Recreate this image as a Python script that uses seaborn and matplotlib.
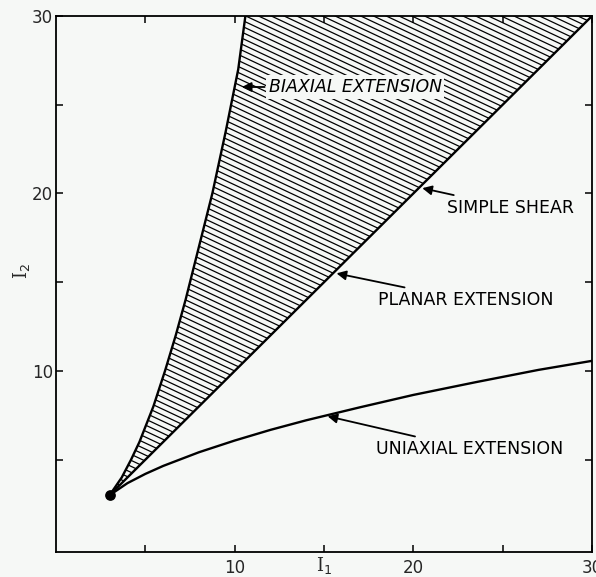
import numpy as np
import pandas as pd
import matplotlib
matplotlib.use("Agg")
import matplotlib.pyplot as plt
from matplotlib.collections import LineCollection
import seaborn as sns

# ---- data ----
uni_i1 = [3, 4, 5, 6, 8, 10, 12, 14, 17, 20, 23.5, 27, 30]
uni_i2 = [3, 3.68, 4.2, 4.65, 5.42, 6.08, 6.68, 7.22, 7.95, 8.65, 9.37, 10.06, 10.57]

bi_i1 = [3, 3.68, 4.2, 4.67, 5.45, 6.1, 6.7, 7.25, 8.0, 8.75, 9.5, 10.2, 10.6]
bi_i2 = [3, 4, 5, 6, 8, 10, 12, 14, 17, 20, 23.5, 27, 30]

shear_i1 = [3, 30]
shear_i2 = [3, 30]

origin_i1 = [3]
origin_i2 = [3]

x_ticks = [10, 20, 30]
y_ticks = [10, 20, 30]
minor_ticks = [5, 15, 25]

labels = ["BIAXIAL EXTENSION", "SIMPLE SHEAR", "PLANAR EXTENSION", "UNIAXIAL EXTENSION"]
label_tips = [(10.4, 26.0), (20.5, 20.3), (15.7, 15.5), (15.2, 7.45)]
label_pos = [(11.9, 26.0), (21.9, 19.2), (18.0, 14.0), (17.9, 5.6)]

# ---- style ----
sns.set_theme(style="white")
bg = "#f6f8f6"
plt.rcParams["font.family"] = ["DejaVu Sans"]

fig = plt.figure(figsize=(5.96, 5.77), dpi=100, facecolor=bg)
ax = fig.add_axes([56 / 596, 25 / 577, 536 / 596, 536 / 577])
ax.set_facecolor(bg)

uni_df = pd.DataFrame({"I1": uni_i1, "I2": uni_i2})
bi_df = pd.DataFrame({"I1": bi_i1, "I2": bi_i2})
sh_df = pd.DataFrame({"I1": shear_i1, "I2": shear_i2})

# hatched region between biaxial curve and I1 = I2 line
reg_x = list(bi_i1) + [shear_i1[-1]] + list(reversed(shear_i1))[1:]
reg_y = list(bi_i2) + [shear_i2[-1]] + list(reversed(shear_i2))[1:]
poly = ax.fill(reg_x, reg_y, facecolor="none", edgecolor="none")[0]

slope = -0.47
step = 0.0112
offs = np.arange(-0.2, 1.6, step)
segs = [[(0, c), (1, c + slope)] for c in offs]
lc = LineCollection(segs, colors="black", linewidths=0.9, transform=ax.transAxes, zorder=1)
ax.add_collection(lc)
lc.set_clip_path(poly)

sns.lineplot(data=uni_df, x="I1", y="I2", ax=ax, color="black", lw=1.7, sort=False,
             estimator=None, zorder=3)
sns.lineplot(data=bi_df, x="I1", y="I2", ax=ax, color="black", lw=1.7, sort=False,
             estimator=None, zorder=3)
sns.lineplot(data=sh_df, x="I1", y="I2", ax=ax, color="black", lw=1.7, sort=False,
             estimator=None, zorder=3)
ax.scatter(origin_i1, origin_i2, s=45, color="black", zorder=4)

for i, (txt, tip, pos) in enumerate(zip(labels, label_tips, label_pos)):
    kw = {}
    if i == 0:
        kw["bbox"] = dict(boxstyle="square,pad=0.15", fc=bg, ec="none")
        style = dict(fontstyle="italic")
    else:
        style = {}
    ax.annotate(txt, xy=tip, xytext=pos, ha="left", va="center",
                fontsize=12.5, color="black", zorder=5,
                arrowprops=dict(arrowstyle="-|>", color="black", lw=1.3,
                                mutation_scale=14, shrinkA=1, shrinkB=0),
                **style, **kw)

ax.set_xlim(0, 30)
ax.set_ylim(-0.2, 30)
ax.set_xticks(x_ticks)
ax.set_yticks(y_ticks)
ax.set_xticks(minor_ticks, minor=True)
ax.set_yticks(minor_ticks, minor=True)
ax.set_xticklabels([str(v) for v in x_ticks])
ax.set_yticklabels([str(v) for v in y_ticks])
ax.tick_params(which="both", direction="in", length=5, width=1.1, color="black",
               top=True, right=True, bottom=True, left=True)
ax.tick_params(axis="x", which="major", pad=5, labelsize=12)
ax.tick_params(axis="y", which="major", pad=2, labelsize=12)

for s in ax.spines.values():
    s.set_visible(True)
    s.set_color("black")
    s.set_linewidth(1.3)

ax.set_xlabel("I$_1$", fontsize=13, family="DejaVu Serif", va="center")
ax.xaxis.set_label_coords(0.5, -0.026)
ax.set_ylabel("I$_2$", fontsize=13, family="DejaVu Serif", va="center")
ax.yaxis.set_label_coords(-0.064, 0.525)

fig.savefig("out.png", dpi=100, facecolor=bg)
